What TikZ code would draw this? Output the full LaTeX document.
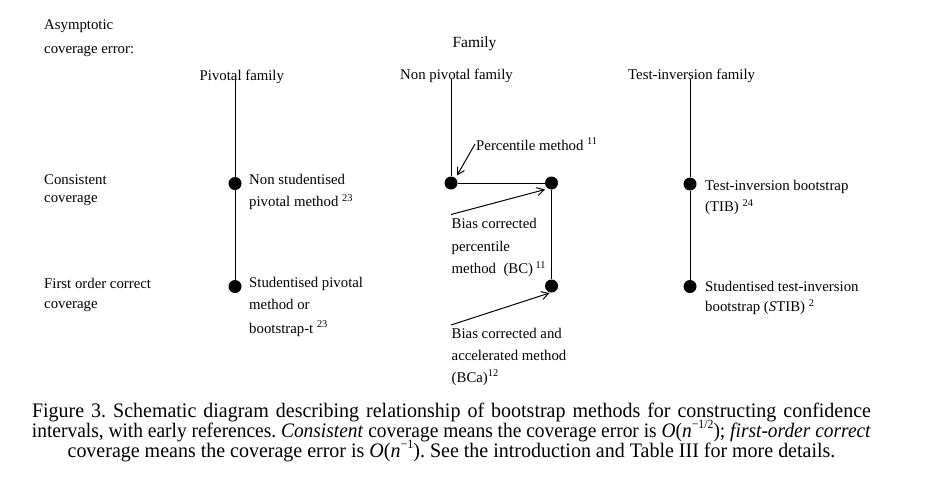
\documentclass[tikz,border=0pt]{standalone}
\usepackage{fontspec}
\usepackage{graphicx}
\setmainfont{Liberation Serif}
\newfontfamily\capfont[FakeStretch=0.97]{Liberation Serif}
\usetikzlibrary{arrows.meta}
\frenchspacing
\newcommand\myref[1]{\textsuperscript{#1}}
\newcommand\capsup[1]{\raisebox{0.42em}{\fontsize{12.5}{12.5}\selectfont #1}}
\begin{document}
\begin{tikzpicture}[x=1pt,y=-1pt,
  lbl/.style={anchor=base west,inner sep=0pt,font=\fontsize{14.8}{17}\selectfont},
  ttl/.style={anchor=base,inner sep=0pt,font=\fontsize{15.5}{18}\selectfont},
  capline/.style={anchor=base,inner sep=0pt,font=\capfont\fontsize{20.6}{20}\selectfont},
  dot/.style={circle,fill=black,inner sep=0pt,minimum size=13pt},
  ln/.style={line width=1pt},
  arr/.style={line width=1pt,-{Straight Barb[length=7pt,width=8pt,line width=1pt]}}]
\useasboundingbox (0,0) rectangle (936,480);
% headings
\node[lbl] (asy) at (44,29.5) {Asymptotic};
\node[lbl] (cerr) at (44,53) {coverage error:};
\node[ttl] (fam) at (474.5,47.5) {Family};
\node[lbl] (pivf) at (199.5,80.5) {Pivotal family};
\node[lbl] (npf) at (400,79.5) {Non pivotal family};
\node[lbl] (tif) at (628,79.5) {Test-inversion family};
% row labels
\node[lbl] (cons1) at (44,184) {Consistent};
\node[lbl] (cons2) at (44,202.5) {coverage};
\node[lbl] (fo1) at (44,288) {First order correct};
\node[lbl] (fo2) at (44,308) {coverage};
% tops of family lines
\coordinate (ptop) at (235,79);
\coordinate (ntop) at (451,79);
\coordinate (ttop) at (690,79);
% dots
\node[dot] (p1) at (235,183.5) {};
\node[dot] (p2) at (235,286.5) {};
\node[dot] (n1) at (451,183) {};
\node[dot] (n2) at (551.5,183) {};
\node[dot] (n3) at (551.5,286) {};
\node[dot] (t1) at (690,184) {};
\node[dot] (t2) at (690,286.5) {};
% lines
\draw[ln] (ptop) -- (p1) -- (p2);
\draw[ln] (ntop) -- (n1) -- (n2) -- (n3);
\draw[ln] (ttop) -- (t1) -- (t2);
% pivotal texts
\node[lbl] (ps1) at (249,184) {Non studentised};
\node[lbl] (ps2) at (249,206.5) {pivotal method \myref{23}};
\node[lbl] (pt1) at (249,287) {Studentised pivotal};
\node[lbl] (pt2) at (249,309) {method or};
\node[lbl] (pt3) at (249,333) {bootstrap-t \myref{23}};
% non pivotal texts
\node[lbl] (perc) at (476,150) {Percentile method \myref{11}};
\node[lbl] (bc1) at (451.5,228) {Bias corrected};
\node[lbl] (bc2) at (451.5,251.5) {percentile};
\node[lbl] (bc3) at (451.5,273.5) {method\ \ (BC)\,\myref{11}};
\node[lbl] (bca1) at (451.5,338) {Bias corrected and};
\node[lbl] (bca2) at (451.5,360) {accelerated method};
\node[lbl] (bca3) at (451.5,382) {(BCa)\myref{12}};
% arrows
\coordinate (a1s) at (475,144);
\coordinate (a1e) at (457,175.5);
\coordinate (a2s) at (451,214.5);
\coordinate (a2e) at (545,189.5);
\coordinate (a3s) at (451,325);
\coordinate (a3e) at (549.5,293);
\draw[arr] (a1s) -- (a1e);
\draw[arr] (a2s) -- (a2e);
\draw[arr] (a3s) -- (a3e);
% test inversion texts
\node[lbl] (ti1) at (705,190) {Test-inversion bootstrap};
\node[lbl] (ti2) at (705,211.5) {(TIB) \myref{24}};
\node[lbl] (st1) at (705,291.5) {Studentised test-inversion};
\node[lbl] (st2) at (705,311.5) {bootstrap (\textit{S}TIB) \myref{2}};
% caption
\node[capline] (c1) at (451.5,417) {\hbox to 839pt{Figure 3. Schematic diagram describing relationship of bootstrap methods for constructing confidence}};
\node[capline] (c2) at (451.5,437) {\resizebox{839pt}{\height}{\hbox{intervals, with early references. \textit{Consistent} coverage means the coverage error is \textit{O}(\textit{n}\capsup{−1/2}); \textit{first-order correct}}}};
\node[capline] (c3) at (451.5,457) {coverage means the coverage error is \textit{O}(\textit{n}\capsup{−1}). See the introduction and Table III for more details.};
\end{tikzpicture}
\end{document}
